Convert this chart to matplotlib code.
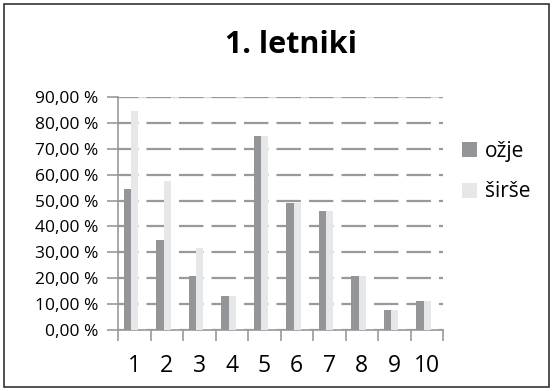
import matplotlib.pyplot as plt
import numpy as np

categories = ["1", "2", "3", "4", "5", "6", "7", "8", "9", "10"]
ozje = [54.5, 34.8, 20.8, 13.1, 75.0, 49.0, 46.0, 20.8, 7.7, 11.2]
sirse = [84.6, 57.5, 31.7, 13.1, 75.0, 49.0, 46.0, 20.8, 7.7, 11.2]
yticks = [0, 10, 20, 30, 40, 50, 60, 70, 80, 90]

plt.rcParams["font.family"] = ["Open Sans", "DejaVu Sans"]
plt.rcParams["lines.scale_dashes"] = False

fig = plt.figure(figsize=(5.53, 3.91), dpi=100)
ax = fig.add_axes([118 / 553, 61 / 391, 325 / 553, 233 / 391])

x = np.arange(len(categories))
w = 0.22
ax.bar(x - 0.1 - w / 2, ozje, w, color="#939598", label="ožje", zorder=3)
ax.bar(x - 0.1 + w / 2, sirse, w, color="#e6e7e8", label="širše", zorder=3)

ax.set_xlim(-0.5, len(categories) - 0.5)
ax.set_ylim(0, 90)
ax.set_yticks(yticks)
ax.set_yticklabels([f"{v:.2f} %".replace(".", ",") for v in yticks], fontsize=12.5)
ax.set_xticks(x)
ax.set_xticklabels(categories, fontsize=16.5)
ax.set_xticks(np.arange(-0.5, len(categories)), minor=True)
ax.tick_params(axis="x", which="major", length=0, pad=17)
ax.tick_params(axis="x", which="minor", length=8, color="#999999", width=1.2)
ax.tick_params(axis="y", length=8, color="#999999", width=1.2, pad=6)

# light top line, then long-dash gridlines with gaps inside each category
ax.axhline(90, color="#d9d9d9", linewidth=1, zorder=0)
ax.grid(axis="y", color="#999999", linewidth=1.6,
        linestyle=(2.9, (17.6, 5.8)), zorder=1)
for side in ["top", "right"]:
    ax.spines[side].set_visible(False)
for side in ["left", "bottom"]:
    ax.spines[side].set_color("#999999")
    ax.spines[side].set_linewidth(1.2)

fig.text(291 / 553, 1 - 45 / 391, "1. letniki", ha="center", va="center",
         fontsize=22, fontweight="bold")

ax.legend(loc="center left", bbox_to_anchor=(1.0, 0.68), frameon=False, fontsize=15,
          handlelength=0.72, handleheight=0.72, handletextpad=0.4, labelspacing=0.95)

fig.patches.append(plt.Rectangle((4 / 553, 4 / 391), 545 / 553, 383 / 391,
                                 transform=fig.transFigure, fill=False,
                                 edgecolor="#333333", linewidth=1.2))

fig.savefig("out.png", dpi=100)
